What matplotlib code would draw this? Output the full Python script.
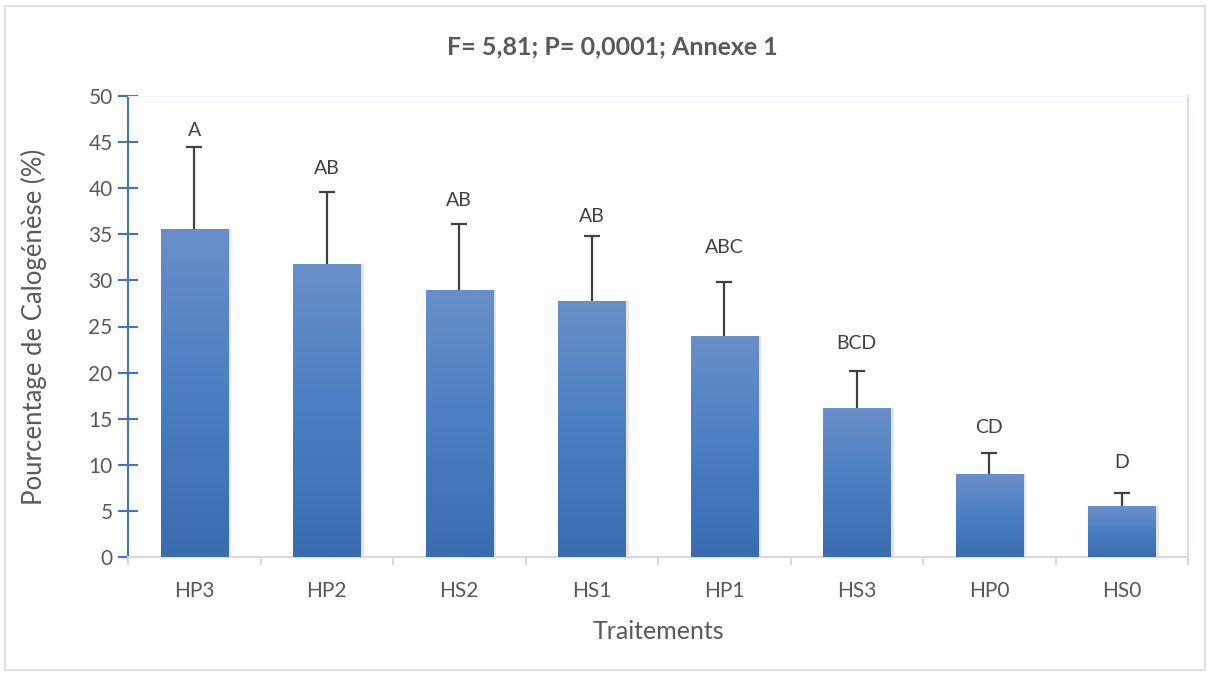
import numpy as np
import matplotlib
matplotlib.use('Agg')
import matplotlib.pyplot as plt
from matplotlib.colors import LinearSegmentedColormap
from matplotlib.patches import Rectangle

plt.rcParams['font.family'] = ['Lato', 'DejaVu Sans']

# Données
traitements = ['HP3', 'HP2', 'HS2', 'HS1', 'HP1', 'HS3', 'HP0', 'HS0']
moyennes = [35.6, 31.8, 29.0, 27.8, 24.0, 16.2, 9.0, 5.5]
erreurs = [8.9, 7.8, 7.1, 7.0, 5.8, 4.0, 2.3, 1.4]
lettres = ['A', 'AB', 'AB', 'AB', 'ABC', 'BCD', 'CD', 'D']
lettres_y = [46.3, 42.1, 38.7, 36.9, 33.6, 23.2, 14.0, 10.3]

gris_texte = '#595959'
bleu_axe = '#4472C4'

fig = plt.figure(figsize=(12.1, 6.74), dpi=100)
ax = fig.add_axes([128 / 1210, 1 - 557 / 674, 1060 / 1210, 461 / 674])

x = np.arange(len(traitements))
largeur = 0.506
moy = np.array(moyennes)
err = np.array(erreurs)

# ombre légère à droite des barres
ax.bar(x + 0.025, moyennes, largeur, color='#000000', alpha=0.10, zorder=1)
barres = ax.bar(x, moyennes, largeur, color='#4A7EC1', zorder=2)

# dégradé vertical dans chaque barre
degrade = LinearSegmentedColormap.from_list('deg', ['#3A6CB0', '#4A7FC2', '#6A8FC8'])
grad = np.linspace(0, 1, 256).reshape(-1, 1)
for b in barres:
    bx, by = b.get_x(), b.get_y()
    bw, bh = b.get_width(), b.get_height()
    im = ax.imshow(grad, cmap=degrade, origin='lower', aspect='auto',
                   extent=[bx, bx + bw, by, by + bh], zorder=3)
    im.set_clip_path(b)

# barres d'erreur (vers le haut seulement)
ax.vlines(x, moy, moy + err, color='#404040', linewidth=1.6, zorder=4)
ax.plot(x, moy + err, linestyle='none', marker='_', markersize=11,
        markeredgewidth=1.6, color='#404040', zorder=4)

for xi, lab, ly in zip(x, lettres, lettres_y):
    ax.text(xi, ly, lab, ha='center', va='center', fontsize=14, color='#404040', zorder=5)

ax.set_xlim(-0.5, len(traitements) - 0.5)
ax.set_ylim(0, 50)
ax.set_yticks(np.arange(0, 51, 5))
ax.set_xticks(x)
ax.set_xticklabels(traitements, fontsize=15, color=gris_texte)
ax.set_xticks(np.arange(-0.5, len(traitements), 1), minor=True)
ax.tick_params(axis='x', which='major', length=0, pad=17)
ax.tick_params(axis='x', which='minor', length=6, width=1.5, color='#D9D9D9', direction='out')
ax.tick_params(axis='y', which='major', direction='inout', length=14, width=1.5,
               color=bleu_axe, labelsize=15, labelcolor=gris_texte, pad=4)

ax.spines['left'].set_color(bleu_axe)
ax.spines['left'].set_linewidth(1.5)
ax.spines['bottom'].set_color('#D9D9D9')
ax.spines['bottom'].set_linewidth(1.5)
ax.spines['top'].set_color('#EEF3FA')
ax.spines['right'].set_color('#C9D8EE')
ax.spines['right'].set_linewidth(1.2)

ax.set_ylabel('Pourcentage de Calogénèse (%)', fontsize=18.5, color=gris_texte, labelpad=30)
ax.set_xlabel('Traitements', fontsize=18, color=gris_texte, labelpad=14)

fig.text(612 / 1210, 1 - 47 / 674, 'F= 5,81; P= 0,0001; Annexe 1', ha='center', va='center',
         fontsize=18, fontweight='bold', color=gris_texte)

# cadre extérieur
fig.patches.append(Rectangle((5 / 1210, 4 / 674), 1200 / 1210, 664 / 674, transform=fig.transFigure,
                             fill=False, edgecolor='#D9D9D9', linewidth=1.2))

fig.savefig('out.png', dpi=100)
